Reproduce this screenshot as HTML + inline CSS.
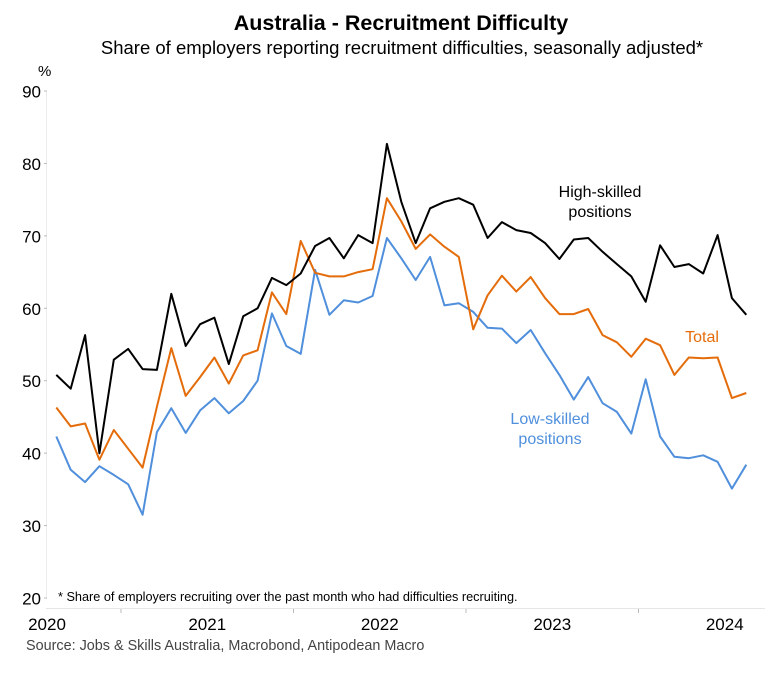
<!DOCTYPE html>
<html><head><meta charset="utf-8"><style>
body{margin:0;background:#fff;width:769px;height:668px;overflow:hidden;font-family:"Liberation Sans",sans-serif}
</style></head><body>
<svg id="chart" width="769" height="668" xmlns="http://www.w3.org/2000/svg" font-family="Liberation Sans, sans-serif">
<text x="401" y="30" text-anchor="middle" font-size="21.5" font-weight="bold">Australia - Recruitment Difficulty</text>
<text x="402" y="54" text-anchor="middle" font-size="18.5">Share of employers reporting recruitment difficulties, seasonally adjusted*</text>
<text x="38" y="76" font-size="15">%</text>
<g id="yaxis"></g>
<g id="xaxis"></g>
<g id="series"></g>
<text x="600" y="197" text-anchor="middle" font-size="16" fill="#000">High-skilled</text>
<text x="600" y="217" text-anchor="middle" font-size="16" fill="#000">positions</text>
<text x="702" y="342" text-anchor="middle" font-size="16" fill="#E46C0A">Total</text>
<text x="550" y="424" text-anchor="middle" font-size="16" fill="#4F8FDC">Low-skilled</text>
<text x="550" y="444" text-anchor="middle" font-size="16" fill="#4F8FDC">positions</text>
<text x="58" y="601" font-size="12.7">* Share of employers recruiting over the past month who had difficulties recruiting.</text>
<text x="26" y="650" font-size="14.4" fill="#444">Source: Jobs &amp; Skills Australia, Macrobond, Antipodean Macro</text>
</svg>
<script>
const high=[50.8,48.9,56.3,40.0,52.9,54.4,51.6,51.5,62.0,54.8,57.8,58.7,52.3,58.9,60.0,64.2,63.2,64.8,68.6,69.7,66.9,70.1,69.0,82.7,74.7,69.0,73.8,74.7,75.2,74.3,69.7,71.9,70.8,70.4,69.0,66.8,69.5,69.7,67.8,66.1,64.4,60.9,68.7,65.7,66.1,64.8,70.1,61.4,59.1];
const total=[46.3,43.7,44.1,39.1,43.2,40.6,38.0,46.4,54.5,47.9,50.5,53.2,49.6,53.5,54.2,62.2,59.2,69.3,64.9,64.4,64.4,65.0,65.4,75.2,72.0,68.2,70.2,68.5,67.1,57.1,61.8,64.5,62.3,64.3,61.4,59.2,59.2,59.9,56.3,55.3,53.3,55.8,54.9,50.8,53.2,53.1,53.2,47.6,48.3];
const low=[42.3,37.7,36.0,38.2,37.0,35.7,31.5,42.9,46.2,42.8,45.9,47.6,45.5,47.2,50.0,59.3,54.8,53.7,65.3,59.1,61.1,60.8,61.7,69.7,66.9,63.9,67.1,60.4,60.7,59.5,57.3,57.2,55.2,57.0,53.8,50.8,47.4,50.5,46.9,45.7,42.7,50.2,42.3,39.5,39.3,39.7,38.8,35.1,38.4];
const yTicks=[20,30,40,50,60,70,80,90];
const years=[2020,2021,2022,2023,2024];
const startMonth=7.5; // mid-Aug 2020
const NS="http://www.w3.org/2000/svg";
function y(v){return 91+(90-v)*7.243;}
function xt(t){return 121+(t-2021)*172.5;}
function xi(i){return xt(2020+(startMonth+i)/12);}
function mk(tag,attrs,parent){const e=document.createElementNS(NS,tag);for(const k in attrs)e.setAttribute(k,attrs[k]);parent.appendChild(e);return e;}
const ya=document.getElementById('yaxis'),xa=document.getElementById('xaxis'),sg=document.getElementById('series');
mk('line',{x1:46.5,x2:46.5,y1:y(90),y2:y(20),stroke:'#ececec','stroke-width':1},ya);
yTicks.forEach(v=>{
  const l=mk('line',{x1:44,x2:47,y1:y(v),y2:y(v),stroke:'#bbb'},ya);
  
  
  const t=mk('text',{x:41,y:y(v)+6.5,'text-anchor':'end','font-size':17},ya);
  
  
  t.textContent=v;
});
mk('line',{x1:46,x2:765,y1:608.5,y2:608.5,stroke:'#e6e6e6'},xa);
years.forEach(yr=>{
  const tx=xt(yr+1);
  if(tx<765){const l=mk('line',{x1:tx,x2:tx,y1:609,y2:613,stroke:'#bbb'},xa);
  
  }
  let cx=xt(yr+0.5); if(cx<47)cx=47;
  const t=mk('text',{x:cx,y:630,'text-anchor':'middle','font-size':17},xa);
  
  
  t.textContent=yr;
});
function line(data,color,name){
  const d=data.map((v,i)=>(i?'L':'M')+xi(i).toFixed(1)+','+y(v).toFixed(1)).join('');
  const p=mk('path',{d:d,fill:'none',stroke:color,'stroke-width':2,'stroke-linejoin':'round'},sg);
  
  
}
line(low,'#4F8FDC','low-skilled-line');
line(total,'#E46C0A','total-line');
line(high,'#000000','high-skilled-line');
</script>
</body></html>
